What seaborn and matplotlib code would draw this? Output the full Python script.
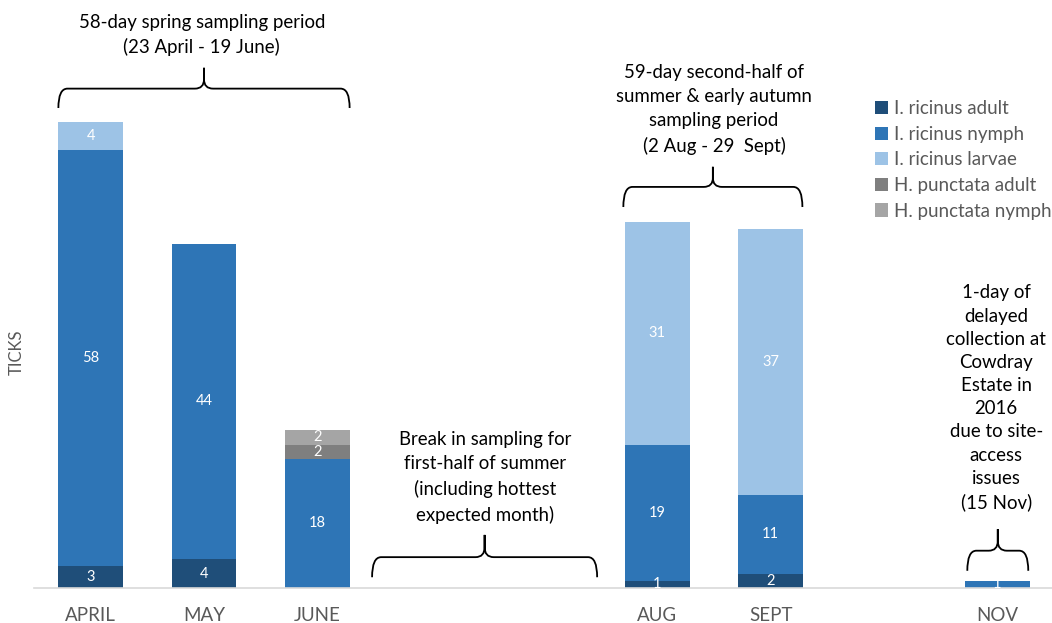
import matplotlib
matplotlib.use("Agg")
from matplotlib import pyplot as plt
from matplotlib.path import Path
from matplotlib.patches import PathPatch, Patch
import pandas as pd
import seaborn as sns

# Data
months = ["APRIL", "MAY", "JUNE", " ", "  ", "AUG", "SEPT", "   ", "NOV"]
ir_adult = [3, 4, 0, 0, 0, 1, 2, 0, 0]
ir_nymph = [58, 44, 18, 0, 0, 19, 11, 0, 1]
ir_larvae = [4, 0, 0, 0, 0, 31, 37, 0, 0]
hp_adult = [0, 0, 2, 0, 0, 0, 0, 0, 0]
hp_nymph = [0, 0, 2, 0, 0, 0, 0, 0, 0]

series_names = ["I. ricinus adult", "I. ricinus nymph", "I. ricinus larvae",
                "H. punctata adult", "H. punctata nymph"]
series_values = [ir_adult, ir_nymph, ir_larvae, hp_adult, hp_nymph]
colors = ["#1F4E79", "#2E75B6", "#9DC3E6", "#7F7F7F", "#A5A5A5"]

FONT = "Lato"
GREY = "#595959"

df = pd.DataFrame({"month": months})
for name, vals in zip(series_names, series_values):
    df[name] = vals
# cumulative sums for layered stacking
cum = df[series_names].cumsum(axis=1)

sns.set_theme(style="white")
plt.rcParams["font.family"] = [FONT, "DejaVu Sans"]

fig = plt.figure(figsize=(10.52, 6.23), dpi=100)
ax = fig.add_axes([34 / 1052, 35 / 623, 1020 / 1052, 574 / 623])

bar_w = 0.57
for i in reversed(range(len(series_names))):
    sns.barplot(x=df["month"], y=cum[series_names[i]], order=months, color=colors[i],
                width=bar_w, errorbar=None, saturation=1, ax=ax, linewidth=0)

# segment labels
for i, name in enumerate(series_names):
    for j, v in enumerate(df[name]):
        if v > 0:
            mid = cum[name][j] - v / 2
            ax.text(j, mid, str(v), ha="center", va="center", color="white", fontsize=10.5)

ax.set_xlim(-0.5, len(months) - 0.5)
ax.set_ylim(0, 80)
ax.set_yticks([])
ax.set_xlabel("")
ax.set_ylabel("TICKS", color=GREY, fontsize=12)
ax.yaxis.set_label_coords(-0.009, 0.41)
ax.tick_params(axis="x", length=0, pad=14, labelsize=13.5, labelcolor=GREY)
for s in ["top", "right", "left"]:
    ax.spines[s].set_visible(False)
ax.spines["bottom"].set_color("#D9D9D9")
ax.spines["bottom"].set_linewidth(1.2)


def brace(x0, x1, yb, yh, yt):
    xc = (x0 + x1) / 2
    dx = 0.08
    dy = (yt - yh) * 0.45
    verts = [(x0, yb), (x0, yh), (x0 + dx, yh),
             (xc - dx, yh),
             (xc, yh), (xc, yh + dy),
             (xc, yt),
             (xc, yh + dy),
             (xc, yh), (xc + dx, yh),
             (x1 - dx, yh),
             (x1, yh), (x1, yb)]
    codes = [Path.MOVETO, Path.CURVE3, Path.CURVE3,
             Path.LINETO,
             Path.CURVE3, Path.CURVE3,
             Path.LINETO,
             Path.LINETO,
             Path.CURVE3, Path.CURVE3,
             Path.LINETO,
             Path.CURVE3, Path.CURVE3]
    ax.add_patch(PathPatch(Path(verts, codes), fill=False, lw=1.3, color="black",
                           clip_on=False))


brace(-0.285, 2.285, 66.9, 69.6, 72.5)
brace(2.483, 4.469, 1.5, 4.3, 7.4)
brace(4.70, 6.28, 53.1, 55.9, 58.7)
brace(7.735, 8.273, 2.4, 5.2, 8.2)

txt = dict(ha="center", va="center", fontsize=13.4, color="black")
ax.text(0.98, 77.1, "58-day spring sampling period\n(23 April - 19 June)", linespacing=1.5, **txt)
ax.text(3.48, 15.4, "Break in sampling for\nfirst-half of summer\n(including hottest\nexpected month)",
        linespacing=1.5, **txt)
ax.text(5.5, 66.7, "59-day second-half of\nsummer & early autumn\nsampling period\n(2 Aug - 29  Sept)",
        linespacing=1.5, **txt)
ax.text(7.99, 26.5, "1-day of\ndelayed\ncollection at\nCowdray\nEstate in\n2016\ndue to site-\naccess\nissues\n(15 Nov)",
        clip_on=False, linespacing=1.44, **txt)

handles = [Patch(facecolor=c, edgecolor="none") for c in colors]
leg = ax.legend(handles, series_names, loc="upper left", bbox_to_anchor=(875 / 1052, 1 - 100 / 623),
                bbox_transform=fig.transFigure, frameon=False, fontsize=13.5,
                handlelength=0.7, handleheight=0.7, handletextpad=0.3, labelspacing=0.46,
                borderpad=0, borderaxespad=0)
for t in leg.get_texts():
    t.set_color(GREY)

fig.savefig("out.png", dpi=100)
